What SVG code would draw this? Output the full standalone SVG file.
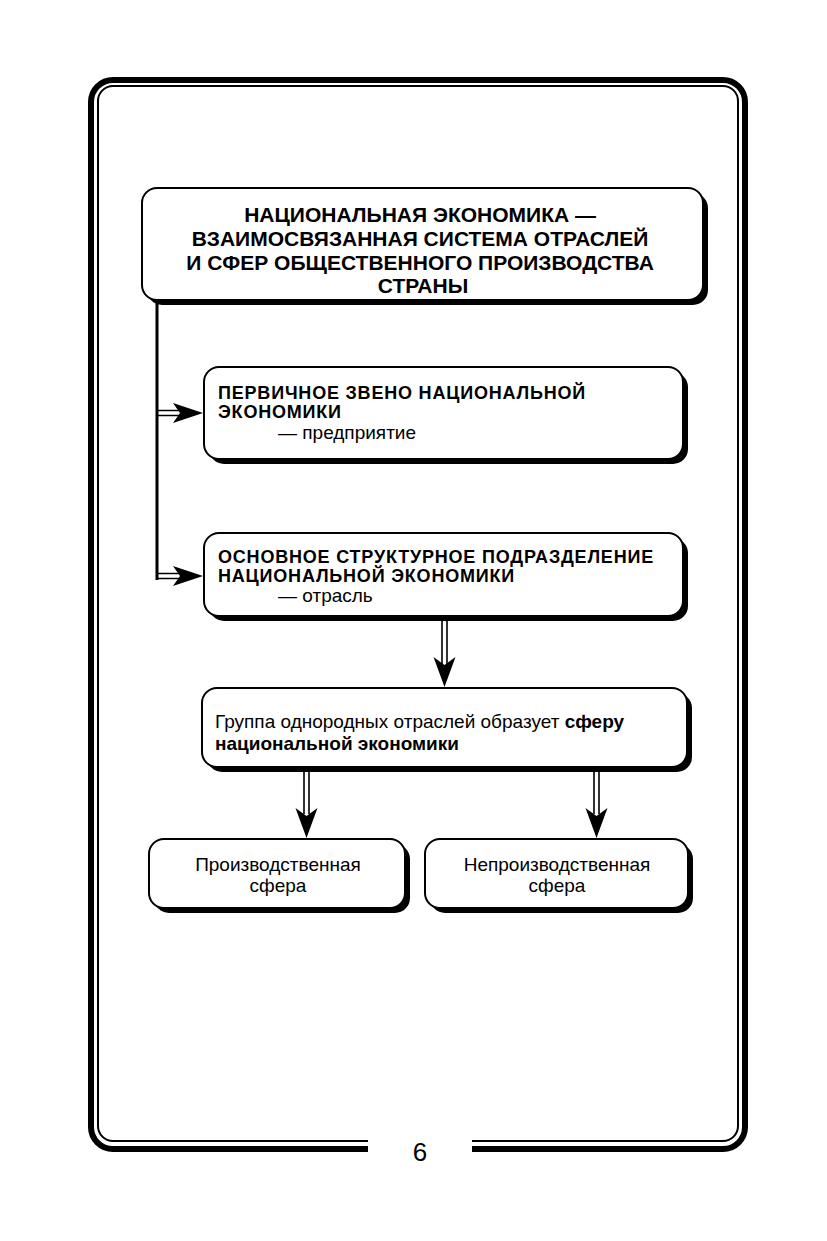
<svg xmlns="http://www.w3.org/2000/svg" width="827" height="1241" viewBox="0 0 827 1241">
<style>
.shadow{fill:#000}
.box{fill:#fff;stroke:#000;stroke-width:2}
.t{font-family:"Liberation Sans",Arial,sans-serif;fill:#000}
.b{font-weight:bold}
.c{font-weight:bold;font-size:18px;letter-spacing:0.8px}
.line{stroke:#000;fill:none}
.head{fill:#000}
</style>
<rect width="827" height="1241" fill="#fff"/>
<g id="frame">
<rect x="91" y="80" width="654" height="1069" rx="22" fill="none" stroke="#000" stroke-width="6"/>
<rect x="98" y="86" width="640" height="1055" rx="15" fill="none" stroke="#000" stroke-width="2"/>
<rect x="368" y="1130" width="104" height="30" fill="#fff"/>
<text class="t" x="420" y="1161" font-size="26" text-anchor="middle">6</text>
</g>
<g id="n1">
<rect class="shadow" x="147" y="193" width="561" height="112" rx="15"/>
<rect class="box" x="142" y="188" width="561" height="112" rx="15"/>
<text class="t b" font-size="21" text-anchor="middle">
<tspan x="423" y="222">НАЦИОНАЛЬНАЯ ЭКОНОМИКА —</tspan>
<tspan x="423" y="246">ВЗАИМОСВЯЗАННАЯ СИСТЕМА ОТРАСЛЕЙ</tspan>
<tspan x="423" y="270">И СФЕР ОБЩЕСТВЕННОГО ПРОИЗВОДСТВА</tspan>
<tspan x="423" y="293">СТРАНЫ</tspan>
</text>
</g>
<g id="n2">
<rect class="shadow" x="209" y="372" width="479" height="92" rx="15"/>
<rect class="box" x="204" y="367" width="479" height="92" rx="15"/>
<text class="t c"><tspan x="218" y="399">ПЕРВИЧНОЕ ЗВЕНО НАЦИОНАЛЬНОЙ</tspan><tspan x="218" y="418">ЭКОНОМИКИ</tspan></text>
<text class="t" font-size="19" x="278" y="439">— предприятие</text>
</g>
<g id="n3">
<rect class="shadow" x="209" y="538" width="479" height="83" rx="15"/>
<rect class="box" x="204" y="533" width="479" height="83" rx="15"/>
<text class="t c"><tspan x="218" y="563">ОСНОВНОЕ СТРУКТУРНОЕ ПОДРАЗДЕЛЕНИЕ</tspan><tspan x="218" y="582">НАЦИОНАЛЬНОЙ ЭКОНОМИКИ</tspan></text>
<text class="t" font-size="19" x="278" y="602">— отрасль</text>
</g>
<g id="n4">
<rect class="shadow" x="207" y="693" width="485" height="79" rx="15"/>
<rect class="box" x="202" y="688" width="485" height="79" rx="15"/>
<text class="t" font-size="19"><tspan x="215" y="728">Группа однородных отраслей образует </tspan><tspan class="b">сферу</tspan><tspan class="b" x="215" y="750">национальной экономики</tspan></text>
</g>
<g id="n5">
<rect class="shadow" x="154" y="844" width="256" height="69" rx="15"/>
<rect class="box" x="149" y="839" width="256" height="69" rx="15"/>
<text class="t" font-size="19" text-anchor="middle"><tspan x="278" y="871">Производственная</tspan><tspan x="278" y="892">сфера</tspan></text>
</g>
<g id="n6">
<rect class="shadow" x="430" y="844" width="263" height="69" rx="15"/>
<rect class="box" x="425" y="839" width="263" height="69" rx="15"/>
<text class="t" font-size="19" text-anchor="middle"><tspan x="557" y="871">Непроизводственная</tspan><tspan x="557" y="892">сфера</tspan></text>
</g>
<g id="connectors">
<line class="line" x1="157" y1="300" x2="157" y2="580" stroke-width="3"/>
<path class="line" d="M157 410.5H182M157 415.5H182" stroke-width="1.6"/>
<path class="head" d="M203 413L173 403L180 413L173 423Z"/>
<path class="line" d="M157 573.5H182M157 578.5H182" stroke-width="1.6"/>
<path class="head" d="M203 576L173 566L180 576L173 586Z"/>
<path class="line" d="M442 621V664M447 621V664" stroke-width="1.6"/>
<path class="head" d="M444.5 687L433.5 657L444.5 665L455.5 657Z"/>
<path class="line" d="M304 772V814M309 772V814" stroke-width="1.6"/>
<path class="head" d="M306.5 838L295.5 808L306.5 816L317.5 808Z"/>
<path class="line" d="M594 772V814M599 772V814" stroke-width="1.6"/>
<path class="head" d="M596.5 838L585.5 808L596.5 816L607.5 808Z"/>
</g>
</svg>
